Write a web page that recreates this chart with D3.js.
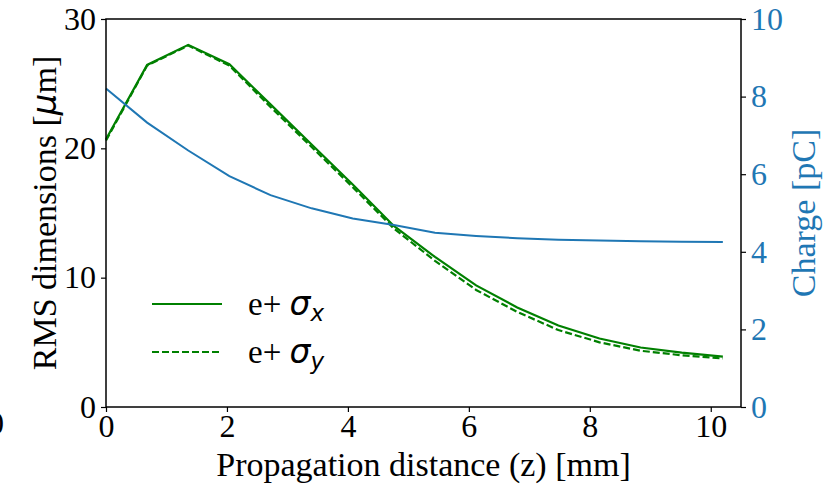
<!DOCTYPE html>
<html>
<head>
<meta charset="utf-8">
<script src="https://cdn.jsdelivr.net/npm/d3@7"></script>
<style>
  body { margin: 0; background: #fff; }
  svg { display: block; }
</style>
</head>
<body>
<script>
// propagation distance (mm)
var zPos = [0, 0.68, 1.36, 2.04, 2.72, 3.4, 4.08, 4.76, 5.44, 6.12, 6.8, 7.48, 8.16, 8.84, 9.52, 10.2];
// rms sizes (um)
var sigmaX = [20.7, 26.45, 28.0, 26.5, 23.4, 20.3, 17.2, 14.0, 11.6, 9.4, 7.7, 6.3, 5.3, 4.6, 4.2, 3.9];
var sigmaY = [20.6, 26.4, 27.95, 26.4, 23.2, 20.1, 17.0, 13.8, 11.3, 9.05, 7.35, 5.95, 5.0, 4.35, 4.0, 3.75];
// charge (pC)
var charge = [8.21, 7.33, 6.61, 5.95, 5.46, 5.12, 4.86, 4.69, 4.49, 4.41, 4.35, 4.31, 4.29, 4.27, 4.26, 4.25];

var xTicks = [0, 2, 4, 6, 8, 10];
var yTicks = [0, 10, 20, 30];
var y2Ticks = [0, 2, 4, 6, 8, 10];

(function () {
  var width = 835, height = 487;
  // plot box (note: "top" is reserved on window, so use pl/pr/pt/pb)
  var pl = 106, pr = 741, pt = 19, pb = 407;
  var serif = "Liberation Serif, Times New Roman, serif";
  var green = "#008000", blue = "#1f77b4";
  var tickSize = 32, labelSize = 34;

  var svg = d3.select("body").append("svg")
    .attr("width", width)
    .attr("height", height);

  // scales
  var x = d3.scaleLinear().domain([0, 10.5]).range([pl, pr]);
  var y = d3.scaleLinear().domain([0, 30]).range([pb, pt]);
  var y2 = d3.scaleLinear().domain([0, 10]).range([pb, pt]);

  // lines
  var makeLine = function (vals, sc) {
    return d3.line()
      .x(function (d, i) { return x(zPos[i]); })
      .y(function (d) { return sc(d); })(vals);
  };

  svg.append("path")
    .attr("d", makeLine(sigmaX, y))
    .attr("fill", "none")
    .attr("stroke", green)
    .attr("stroke-width", 2.2);

  svg.append("path")
    .attr("d", makeLine(sigmaY, y))
    .attr("fill", "none")
    .attr("stroke", green)
    .attr("stroke-width", 2.2)
    .attr("stroke-dasharray", "7,3");

  svg.append("path")
    .attr("d", makeLine(charge, y2))
    .attr("fill", "none")
    .attr("stroke", blue)
    .attr("stroke-width", 2);

  // axes
  var styleAxis = function (g, color) {
    g.select(".domain").remove();
    g.selectAll(".tick line").attr("stroke", "#000").attr("stroke-width", 1.2);
    g.selectAll(".tick text")
      .attr("font-family", serif)
      .attr("font-size", tickSize)
      .attr("fill", color);
  };

  svg.append("g")
    .attr("transform", "translate(0," + pb + ")")
    .call(d3.axisBottom(x).tickValues(xTicks).tickSize(5).tickPadding(2))
    .call(function (g) { styleAxis(g, "#000"); });

  svg.append("g")
    .attr("transform", "translate(" + pl + ",0)")
    .call(d3.axisLeft(y).tickValues(yTicks).tickSize(5).tickPadding(5))
    .call(function (g) { styleAxis(g, "#000"); });

  svg.append("g")
    .attr("transform", "translate(" + pr + ",0)")
    .call(d3.axisRight(y2).tickValues(y2Ticks).tickSize(5).tickPadding(5))
    .call(function (g) { styleAxis(g, blue); });

  // frame
  svg.append("rect")
    .attr("x", pl)
    .attr("y", pt)
    .attr("width", pr - pl)
    .attr("height", pb - pt)
    .attr("fill", "none")
    .attr("stroke", "#000")
    .attr("stroke-width", 1.5);

  // axis labels
  svg.append("text")
    .attr("x", (pl + pr) / 2)
    .attr("y", 476)
    .attr("text-anchor", "middle")
    .attr("font-family", serif)
    .attr("font-size", labelSize)
    .text("Propagation distance (z) [mm]");

  var yl = svg.append("text")
    .attr("transform", "translate(56," + (pt + pb) / 2 + ") rotate(-90)")
    .attr("text-anchor", "middle")
    .attr("font-family", serif)
    .attr("font-size", labelSize);
  yl.append("tspan").text("RMS dimensions [");
  yl.append("tspan").attr("font-family", "DejaVu Sans").attr("font-style", "italic").text("μ");
  yl.append("tspan").text("m]");

  svg.append("text")
    .attr("transform", "translate(815," + (pt + pb) / 2 + ") rotate(-90)")
    .attr("text-anchor", "middle")
    .attr("font-family", serif)
    .attr("font-size", labelSize)
    .attr("fill", blue)
    .text("Charge [pC]");

  // stray clipped label at the left edge
  svg.append("text")
    .attr("x", -12)
    .attr("y", 434)
    .attr("font-family", serif)
    .attr("font-size", tickSize)
    .text("0");

  // legend
  var legendItems = [
    { sub: "x", dash: null, y: 304 },
    { sub: "y", dash: "7,3", y: 352 }
  ];
  var legend = svg.selectAll(".legend")
    .data(legendItems)
    .enter().append("g")
    .attr("class", "legend");

  legend.append("line")
    .attr("x1", 152).attr("x2", 222)
    .attr("y1", function (d) { return d.y; })
    .attr("y2", function (d) { return d.y; })
    .attr("stroke", green)
    .attr("stroke-width", 2.2)
    .attr("stroke-dasharray", function (d) { return d.dash; });

  var lt = legend.append("text")
    .attr("x", 248)
    .attr("y", function (d) { return d.y + 11; })
    .attr("font-family", serif)
    .attr("font-size", 33);
  lt.append("tspan").text("e+ ");
  lt.append("tspan")
    .attr("font-family", "DejaVu Sans")
    .attr("font-style", "italic")
    .text("σ");
  lt.append("tspan")
    .attr("font-family", "DejaVu Sans")
    .attr("font-style", "italic")
    .attr("font-size", 23)
    .attr("dy", 6)
    .text(function (d) { return d.sub; });
})();
</script>
</body>
</html>
